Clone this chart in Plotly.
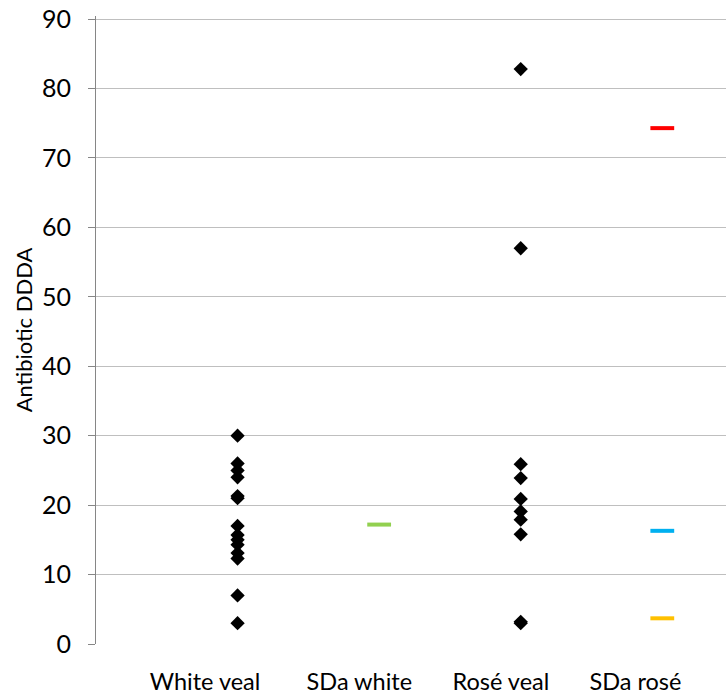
import plotly.graph_objects as go

categories = ["White veal", "SDa white", "Rosé veal", "SDa rosé"]
category_x = [1, 2, 3, 4]
label_x = [0.77, 1.86, 2.86, 3.81]
y_ticks = [0, 10, 20, 30, 40, 50, 60, 70, 80, 90]

white_veal = [30, 26, 25, 24, 21.3, 21, 17, 15.7, 15, 14.3, 13.1, 12.3, 7, 3]
rose_veal = [82.8, 57, 25.9, 23.9, 20.9, 19.1, 17.9, 15.8, 3.2, 3.0]
sda_white = [17.2]
sda_rose = [74.3, 16.3, 3.7]
sda_rose_colors = ["#FF0000", "#00B0F0", "#FFC000"]

fig = go.Figure()
fig.add_trace(go.Scatter(
    x=[category_x[0]] * len(white_veal), y=white_veal, mode="markers",
    marker=dict(symbol="diamond", size=11, color="black"), showlegend=False))
fig.add_trace(go.Scatter(
    x=[category_x[2]] * len(rose_veal), y=rose_veal, mode="markers",
    marker=dict(symbol="diamond", size=11, color="black"), showlegend=False))
fig.add_trace(go.Scatter(
    x=[category_x[1]] * len(sda_white), y=sda_white, mode="markers",
    marker=dict(symbol="line-ew", size=17, line=dict(color="#92D050", width=4)),
    showlegend=False))
for v, c in zip(sda_rose, sda_rose_colors):
    fig.add_trace(go.Scatter(
        x=[category_x[3]], y=[v], mode="markers",
        marker=dict(symbol="line-ew", size=17, line=dict(color=c, width=4)),
        showlegend=False))

font = "Lato, Calibri, Carlito, sans-serif"
fig.update_layout(
    width=726, height=697,
    margin=dict(l=96, r=0, t=16, b=53),
    paper_bgcolor="white", plot_bgcolor="white",
    font=dict(family=font, size=23, color="black"),
    xaxis=dict(range=[0, 4.45], tickmode="array", tickvals=label_x, ticktext=categories,
               showgrid=False, zeroline=False, showline=False, ticks="",
               ticklabelstandoff=21, tickfont=dict(size=23.5)),
    yaxis=dict(range=[0, 90.45], tickmode="array", tickvals=y_ticks,
               showgrid=True, gridcolor="#BFBFBF", gridwidth=1,
               zeroline=False, showline=True, linecolor="#868686", linewidth=1,
               ticks="outside", ticklen=7, tickcolor="#868686",
               ticklabelstandoff=12,
               title=dict(text="Antibiotic DDDA", font=dict(size=22), standoff=3),
               tickfont=dict(size=25)),
)
fig.write_html("out.html", config={"displayModeBar": False},
               post_script="document.body.style.margin='0';")
